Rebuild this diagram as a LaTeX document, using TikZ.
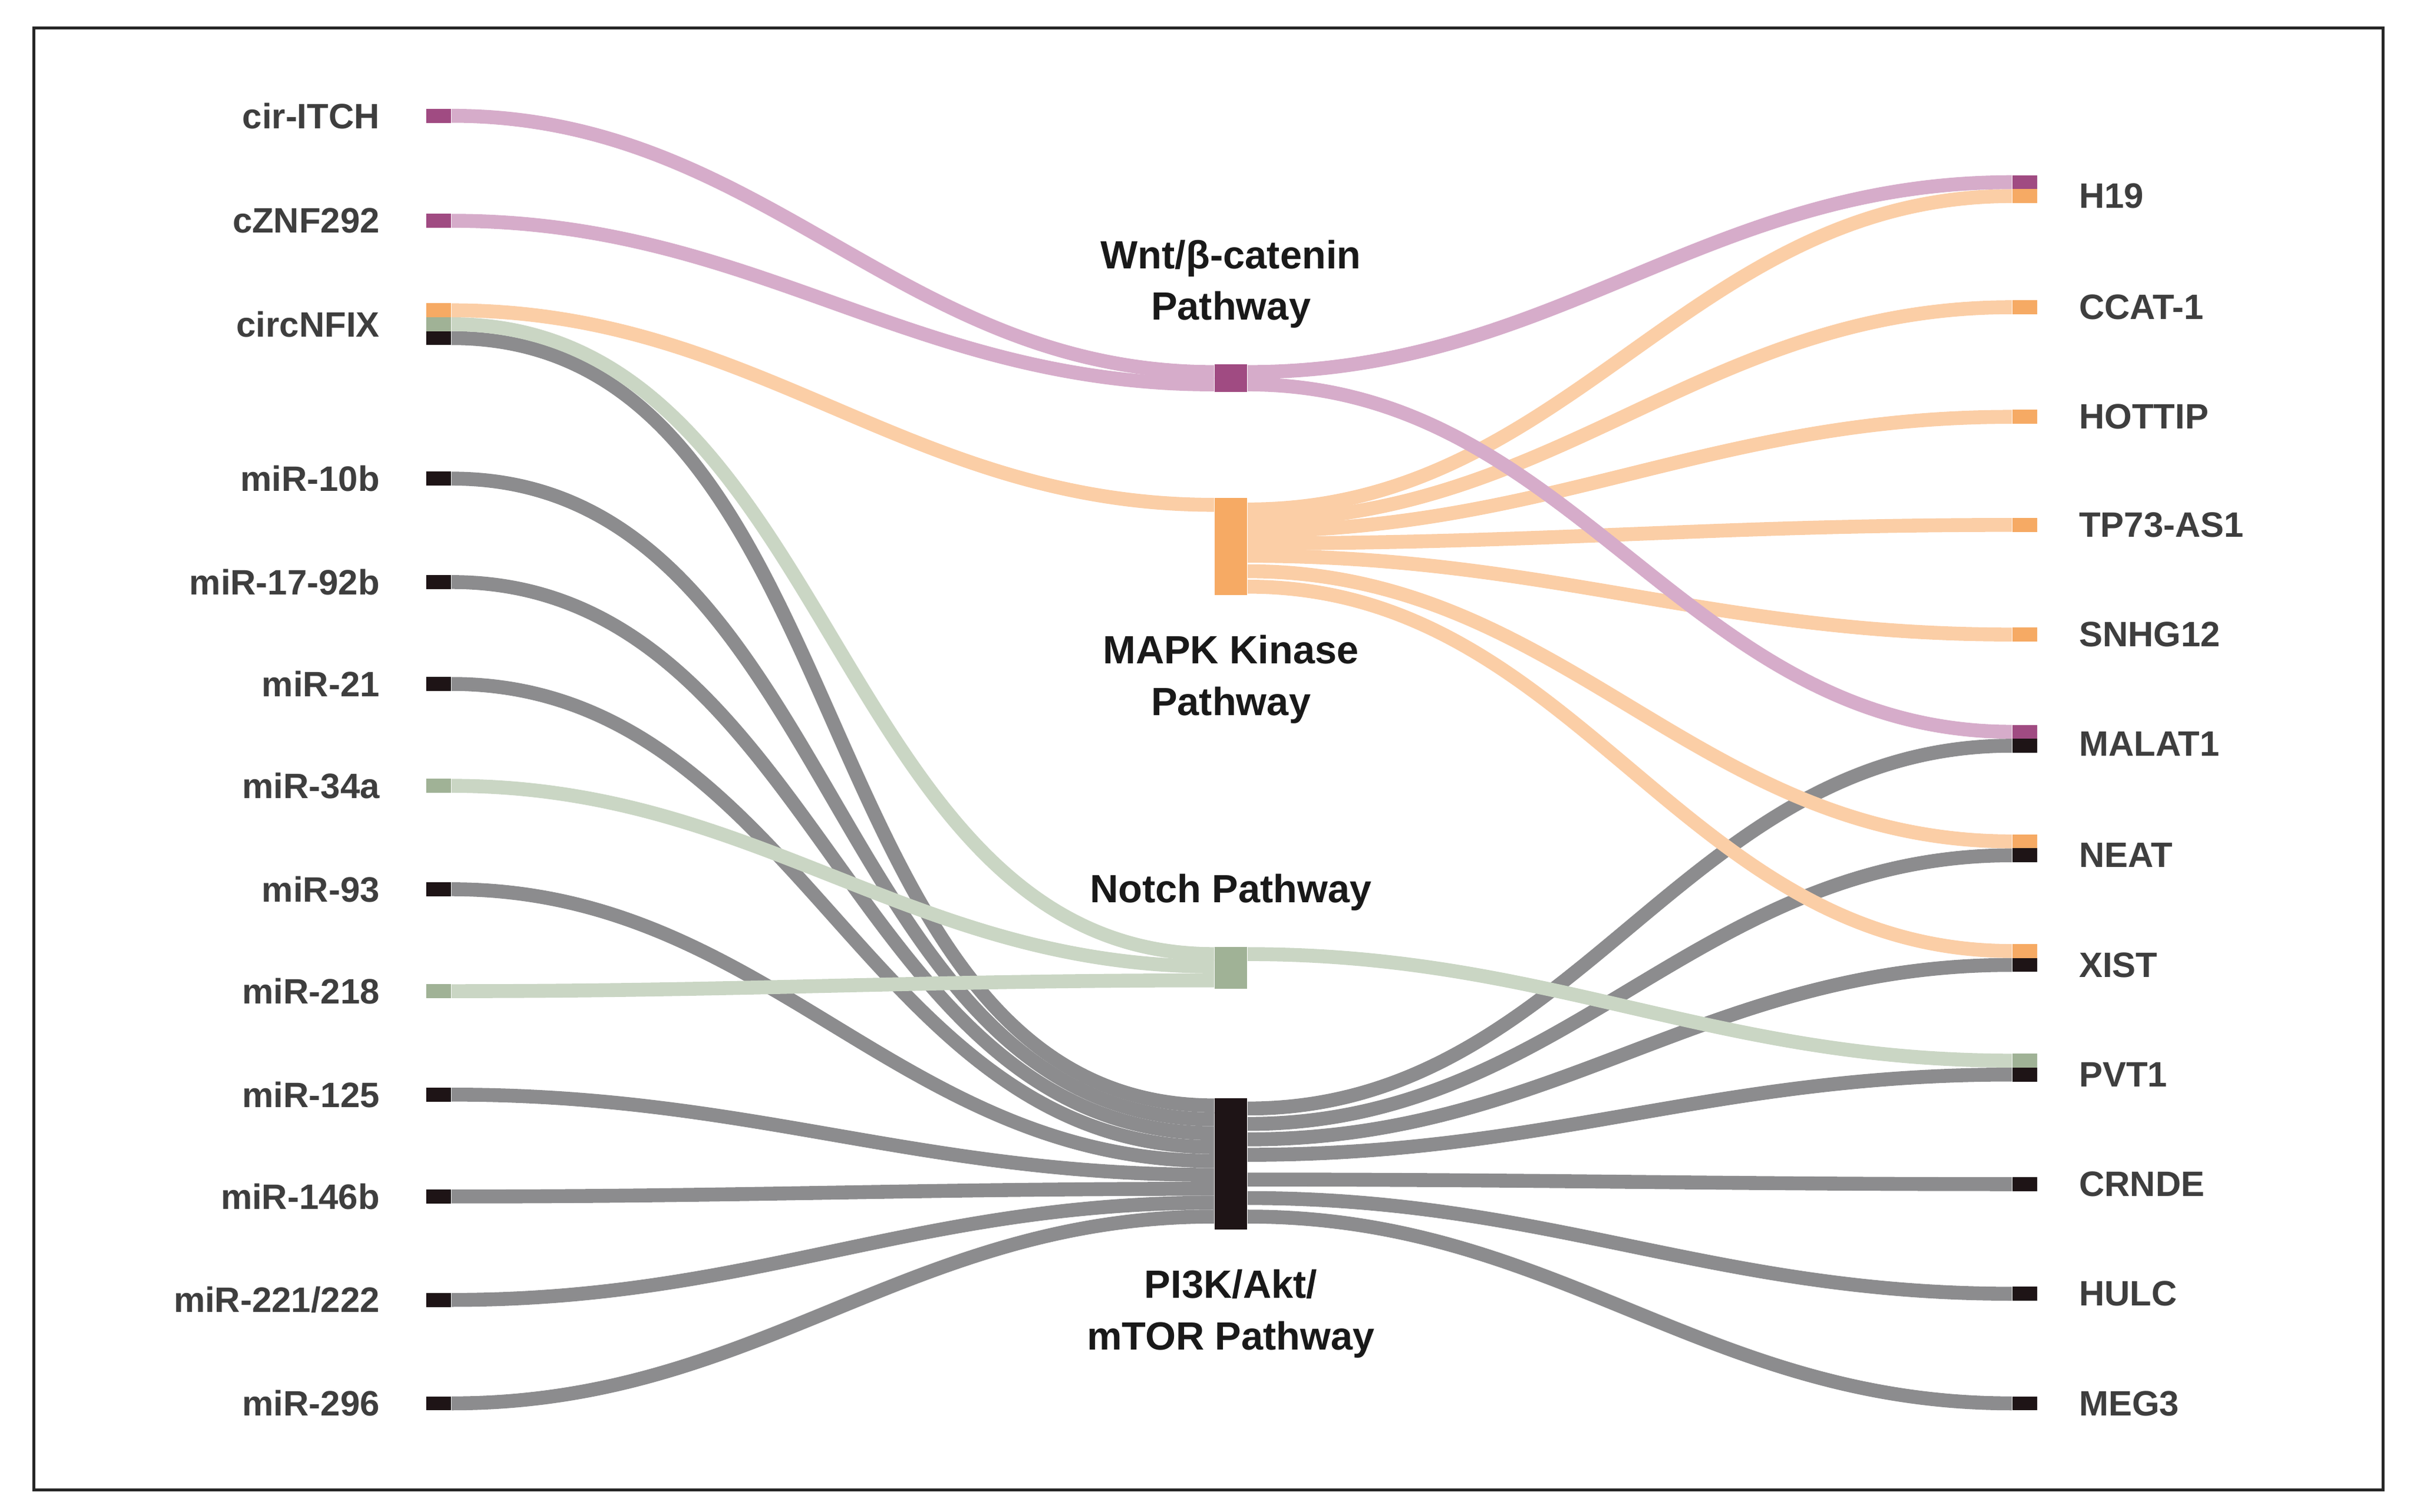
\documentclass[tikz,border=0pt]{standalone}
\usepackage{fontspec}
\setmainfont{Liberation Sans}
\usetikzlibrary{calc}
\definecolor{wntbar}{RGB}{160,75,130}
\definecolor{wntflow}{RGB}{214,172,202}
\definecolor{mapkbar}{RGB}{246,170,100}
\definecolor{mapkflow}{RGB}{251,206,166}
\definecolor{notchbar}{RGB}{160,178,150}
\definecolor{notchflow}{RGB}{202,214,196}
\definecolor{pikbar}{RGB}{30,20,22}
\definecolor{pikflow}{RGB}{140,140,142}
\definecolor{labgrey}{RGB}{62,62,62}
\pgfdeclarelayer{background}
\pgfsetlayers{background,main}
\tikzset{
  bar/.style={rectangle,inner sep=0pt,minimum width=0.32cm,minimum height=0.18cm},
  hub/.style={rectangle,inner sep=0pt,minimum width=0.42cm},
  llabel/.style={anchor=east,font=\fontsize{13}{15}\selectfont\bfseries,text=labgrey},
  rlabel/.style={anchor=west,font=\fontsize{13}{15}\selectfont\bfseries,text=labgrey},
  plabel/.style={align=center,font=\fontsize{14.5}{19}\selectfont\bfseries,text=black!90},
  flow/.style={line width=0.18cm}
}
\newcommand\flow[3]{\draw[flow,#1] (#2) to[out=0,in=180] (#3);}
\begin{document}
\begin{tikzpicture}[x=0.02cm,y=-0.02cm]
\useasboundingbox (0,0) rectangle (1563,979);
\draw[line width=1.1pt,black!85] (22,18) rectangle (1543,965);

% left side
\foreach \n/\t/\y/\c in {itch/cir-ITCH/75/wntbar, znf/cZNF292/143/wntbar,
  mtenb/miR-10b/310/pikbar, mseventeen/miR-17-92b/377/pikbar, mtwentyone/miR-21/443/pikbar,
  mthirtyfour/miR-34a/509/notchbar, mninetythree/miR-93/576/pikbar, mtwoeighteen/miR-218/642/notchbar,
  monetwofive/miR-125/709/pikbar, monefortysix/miR-146b/775/pikbar, mtwotwentyone/{miR-221/222}/842/pikbar,
  mtwoninetysix/miR-296/909/pikbar}{
  \node[bar,fill=\c] (\n) at (284,\y) {};
  \node[llabel] at (252,\y) {\t};
}
\node[bar,fill=mapkbar] (nfixo) at (284,201) {};
\node[bar,fill=notchbar] (nfixg) at (284,210) {};
\node[bar,fill=pikbar] (nfixk) at (284,219) {};
\node[llabel] at (252,210) {circNFIX};

% right side
\foreach \n/\t/\y/\c in {ccat/CCAT-1/199/mapkbar, hottip/HOTTIP/270/mapkbar,
  tpas/TP73-AS1/340/mapkbar, snhg/SNHG12/411/mapkbar,
  crnde/CRNDE/767/pikbar, hulc/HULC/838/pikbar, meg/MEG3/909/pikbar}{
  \node[bar,fill=\c] (\n) at (1311,\y) {};
  \node[rlabel] at (1340,\y) {\t};
}
\node[bar,fill=wntbar] (hnineteenp) at (1311,118) {};
\node[bar,fill=mapkbar] (hnineteeno) at (1311,127) {};
\node[rlabel] at (1340,127) {H19};
\node[bar,fill=wntbar] (malatp) at (1311,474) {};
\node[bar,fill=pikbar] (malatk) at (1311,483) {};
\node[rlabel] at (1340,482) {MALAT1};
\node[bar,fill=mapkbar] (neato) at (1311,545) {};
\node[bar,fill=pikbar] (neatk) at (1311,554) {};
\node[rlabel] at (1340,554) {NEAT};
\node[bar,fill=mapkbar] (xisto) at (1311,616) {};
\node[bar,fill=pikbar] (xistk) at (1311,625) {};
\node[rlabel] at (1340,625) {XIST};
\node[bar,fill=notchbar] (pvtg) at (1311,687) {};
\node[bar,fill=pikbar] (pvtk) at (1311,696) {};
\node[rlabel] at (1340,696) {PVT1};

% pathway hubs
\node[hub,fill=wntbar,minimum height=0.36cm] (wnt) at (797,245) {};
\node[hub,fill=mapkbar,minimum height=1.26cm] (mapk) at (797,354) {};
\node[hub,fill=notchbar,minimum height=0.54cm] (notch) at (797,627) {};
\node[hub,fill=pikbar,minimum height=1.7cm] (pik) at (797,754) {};
\node[plabel] at (797,184) {Wnt/β-catenin\\Pathway};
\node[plabel] at (797,440) {MAPK Kinase\\Pathway};
\node[plabel] at (797,578) {Notch Pathway};
\node[plabel] at (797,851) {PI3K/Akt/\\mTOR Pathway};

\begin{pgfonlayer}{background}
% PI3K/Akt/mTOR
\foreach \n/\o in {nfixk/-38, mtenb/-29, mseventeen/-20, mtwentyone/-11, mninetythree/-2,
  monetwofive/7, monefortysix/16, mtwotwentyone/25, mtwoninetysix/34}{
  \flow{pikflow}{\n.east}{$(pik.west)+(0,\o)$}
}
\foreach \n/\o in {malatk/-36, neatk/-26, xistk/-16, pvtk/-6, crnde/10, hulc/22, meg/34}{
  \flow{pikflow}{$(pik.east)+(0,\o)$}{\n.west}
}
% Notch
\flow{notchflow}{nfixg.east}{$(notch.west)+(0,-9)$}
\flow{notchflow}{mthirtyfour.east}{$(notch.west)+(0,-1)$}
\flow{notchflow}{mtwoeighteen.east}{$(notch.west)+(0,8)$}
\flow{notchflow}{$(notch.east)+(0,-9)$}{pvtg.west}
% MAPK
\flow{mapkflow}{nfixo.east}{$(mapk.west)+(0,-27)$}
\foreach \n/\o in {hnineteeno/-24, ccat/-17, hottip/-10, tpas/-2, snhg/6, neato/16, xisto/26}{
  \flow{mapkflow}{$(mapk.east)+(0,\o)$}{\n.west}
}
% Wnt
\flow{wntflow}{itch.east}{$(wnt.west)+(0,-4)$}
\flow{wntflow}{znf.east}{$(wnt.west)+(0,4)$}
\flow{wntflow}{$(wnt.east)+(0,-4)$}{hnineteenp.west}
\flow{wntflow}{$(wnt.east)+(0,4)$}{malatp.west}
\end{pgfonlayer}
\end{tikzpicture}
\end{document}
